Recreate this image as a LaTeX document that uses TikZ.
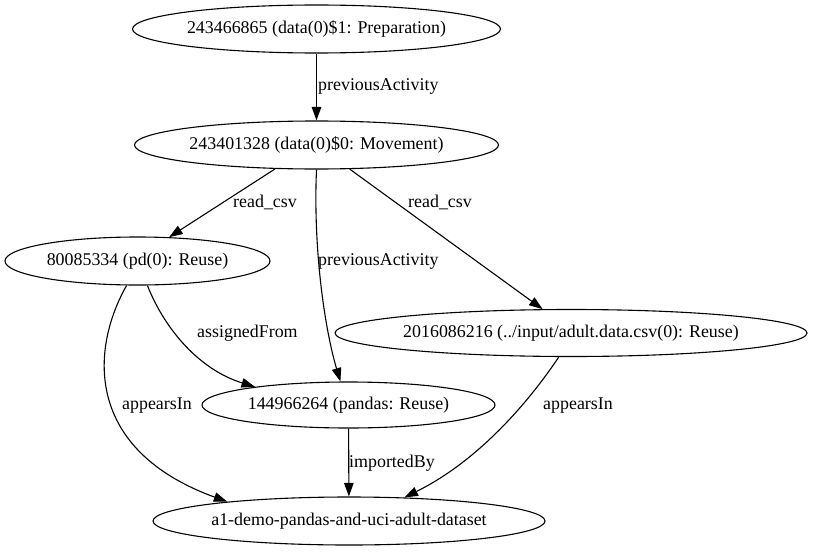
\documentclass[tikz,border=0pt]{standalone}
\usepackage{fontspec}
\setmainfont{Liberation Serif}
\usetikzlibrary{arrows.meta,shapes.geometric}
\newcommand{\ztxt}[1]{\makebox[0pt]{#1}}
\begin{document}
\begin{tikzpicture}[x=1pt,y=-1pt,
  nd/.style={draw,ellipse,line width=1.1pt,inner sep=0pt,font=\fontsize{17.9}{21}\selectfont},
  lbl/.style={inner sep=0pt,anchor=west,text height=12.5pt,text depth=4pt,font=\fontsize{17.9}{21}\selectfont},
  edge/.style={line width=1.1pt,-{Triangle[length=13.5pt,width=9.5pt]}}]
\useasboundingbox (0,0) rectangle (813,551);
\node[nd,minimum width=368pt,minimum height=48pt] (A) at (316.5,29) {\ztxt{243466865 (data(0)\$1: Preparation)}};
\node[nd,minimum width=364pt,minimum height=48pt] (B) at (316.5,145) {\ztxt{243401328 (data(0)\$0: Movement)}};
\node[nd,minimum width=265pt,minimum height=48pt] (C) at (137.5,261) {\ztxt{80085334 (pd(0): Reuse)}};
\node[nd,minimum width=472pt,minimum height=47pt] (D) at (571,333) {\ztxt{2016086216 (../input/adult.data.csv(0): Reuse)}};
\node[nd,minimum width=293pt,minimum height=46pt] (E) at (348.5,405) {\ztxt{144966264 (pandas: Reuse)}};
\node[nd,minimum width=392pt,minimum height=48pt] (F) at (349,521) {\ztxt{a1-demo-pandas-and-uci-adult-dataset}};

\draw[edge] (A) -- (B);
\draw[edge] (B.-150) -- (C.37);
\draw[edge] (B.-90) .. controls (313,250) and (325,330) .. (E.109);
\draw[edge] (B.-36) -- (D.140);
\draw[edge] (C.-68) .. controls (165,330) and (200,370) .. (E.169);
\draw[edge] (C.-114) .. controls (90,350) and (85,450) .. (F.171);
\draw[edge] (E) -- (F);
\draw[edge] (D.-117) .. controls (530,400) and (480,460) .. (F.23);

\node[lbl] (l1) at (318,86) {previousActivity};
\node[lbl] (l2) at (233,203) {read\_csv};
\node[lbl] (l3) at (318,261) {previousActivity};
\node[lbl] (l4) at (408,203) {read\_csv};
\node[lbl] (l5) at (197,333) {assignedFrom};
\node[lbl] (l6) at (122,405) {appearsIn};
\node[lbl] (l7) at (349,463) {importedBy};
\node[lbl] (l8) at (543,405) {appearsIn};
\end{tikzpicture}
\end{document}
